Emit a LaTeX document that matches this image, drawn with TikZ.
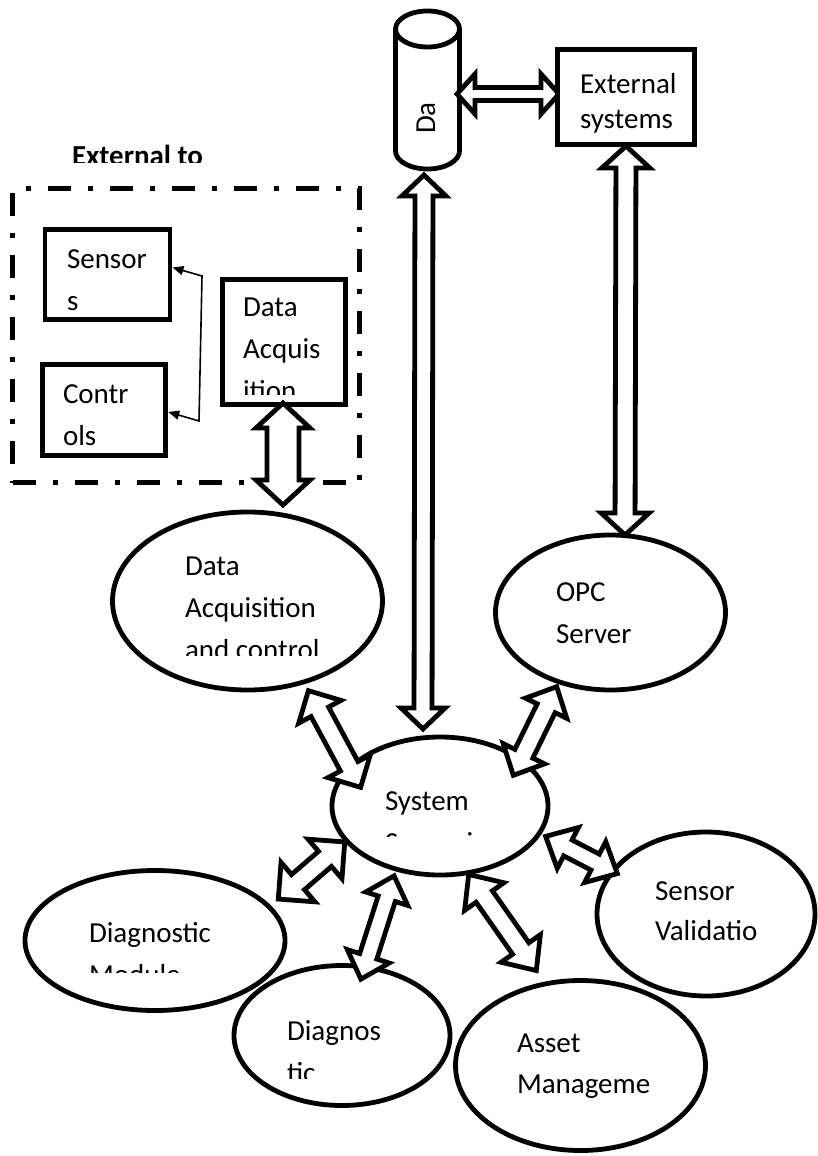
\documentclass[tikz,border=0pt]{standalone}
\usepackage{fontspec}
\setmainfont{Carlito}
\usetikzlibrary{shapes.geometric,arrows.meta,calc}
\newdimen\baXa \newdimen\baYa \newdimen\baXb \newdimen\baYb
\tikzset{
  shp/.style={draw, line width=4.8pt, fill=white, inner sep=0pt, outer sep=0pt},
  box/.style={shp, rectangle},
  ell/.style={shp, ellipse},
  lbl/.style={inner sep=0pt, outer sep=0pt, anchor=base west, align=left, font=\fontsize{29}{42}\selectfont},
  blk/.style={draw, fill=white, line width=4.8pt, line join=miter},
  thinconn/.style={line width=1.6pt, {Triangle[length=11pt,width=9pt]}-{Triangle[length=11pt,width=9pt]}},
  dashdot/.style={draw, line width=5pt, dash pattern=on 23pt off 17pt on 5pt off 17pt, inner sep=0pt, outer sep=0pt, rectangle}
}
% block double arrow between two named coordinates: #1 from, #2 to, #3 shaft half width, #4 head half width, #5 head length
\newcommand{\BlkArrow}[5]{%
  \pgfextractx{\baXa}{\pgfpointanchor{#1}{center}}%
  \pgfextracty{\baYa}{\pgfpointanchor{#1}{center}}%
  \pgfextractx{\baXb}{\pgfpointanchor{#2}{center}}%
  \pgfextracty{\baYb}{\pgfpointanchor{#2}{center}}%
  \pgfmathsetmacro\baAng{atan2(\baYb-\baYa,\baXb-\baXa)}%
  \pgfmathsetmacro\baE{veclen(\baXb-\baXa,\baYb-\baYa)-3}%
  \begin{scope}[shift={(\the\baXa,\the\baYa)}, rotate=\baAng, x=1pt, y=1pt]
    \draw[blk] (3,0) -- ({3+#5},#4) -- ({3+#5},#3) -- ({\baE-#5},#3) -- ({\baE-#5},#4) -- (\baE,0)
      -- ({\baE-#5},-#4) -- ({\baE-#5},-#3) -- ({3+#5},-#3) -- ({3+#5},-#4) -- cycle;
  \end{scope}}
\begin{document}
\begin{tikzpicture}[x=1pt, y=-1pt]
\useasboundingbox (0,0) rectangle (817,1156);
\fill[white] (0,0) rectangle (817,1156);

% external group
\node[dashdot, minimum width=347, minimum height=294] (grp) at (186,335.5) {};
\begin{scope}
  \clip (60,130) rectangle (230,162);
  \node[lbl, font=\bfseries\fontsize{29}{42}\selectfont] (tgrp) at (72,165) {External to};
\end{scope}

\node[box, minimum width=125, minimum height=90.5] (sen) at (107.5,274.5) {};
\node[box, minimum width=123.5, minimum height=91.5] (ctl) at (104,410) {};
\node[box, minimum width=123.5, minimum height=125.5] (dab) at (284,342) {};
\node[lbl] (tsen) at (67,310) {Sensor\\s};
\node[lbl] (tctl) at (63,445) {Contr\\ols};
\begin{scope}
  \clip (230,280) rectangle (345,394);
  \node[lbl] (tdab) at (243,400) {Data\\Acquis\\ition};
\end{scope}

% thin connector
\coordinate (j1) at (202,276);
\coordinate (j2) at (199,421);
\draw[thinconn] ($(sen.east)+(2.5,-7)$) -- (j1) -- (j2) -- ($(ctl.east)+(2.5,2)$);

% database cylinder
\draw[line width=4.8pt, fill=white] (395.5,29) -- (395.5,151) arc[start angle=180, end angle=0, x radius=32, y radius=18] -- (459.5,29);
\draw[line width=4.8pt, fill=white] (427.5,29) ellipse [x radius=32, y radius=18];
\node[inner sep=0pt, rotate=90, font=\fontsize{29}{42}\selectfont] (tdb) at (426,118) {Da};

% ellipses
\node[ell, minimum width=270, minimum height=178] (dac) at (247.5,601) {};
\node[ell, minimum width=230, minimum height=155] (opc) at (610.5,612.5) {};
\node[ell, minimum width=216, minimum height=138] (sys) at (440,806) {};
\node[ell, minimum width=260, minimum height=140] (dgm) at (155,940.5) {};
\node[ell, minimum width=216, minimum height=140] (dgn) at (342,1035.5) {};
\node[ell, minimum width=218, minimum height=164] (svl) at (706,914) {};
\node[ell, minimum width=250, minimum height=170] (ast) at (580.5,1065.5) {};

\begin{scope}
  \clip (175,540) rectangle (380,655);
  \node[lbl] (tdac) at (185,659) {Data\\Acquisition\\and control};
\end{scope}
\node[lbl] (topc) at (556,643) {OPC\\Server};
\begin{scope}
  \clip (370,770) rectangle (540,836);
  \node[lbl] (tsys) at (385,852) {System\\Supervisor};
\end{scope}
\begin{scope}
  \clip (80,900) rectangle (280,972);
  \node[lbl] (tdgm) at (89,984) {Diagnostic\\Module};
\end{scope}
\begin{scope}
  \clip (270,1000) rectangle (440,1078);
  \node[lbl] (tdgn) at (287,1082) {Diagnos\\tic};
\end{scope}
\node[lbl, font=\fontsize{29}{40}\selectfont] (tsvl) at (655,940) {Sensor\\Validatio};
\node[lbl, font=\fontsize{29}{41}\selectfont] (tast) at (517,1093) {Asset\\Manageme};

% block arrow end points
\coordinate (c1a) at (454,94);  \coordinate (c1b) at (562,94);
\coordinate (c2a) at (626,143); \coordinate (c2b) at (625,538);
\coordinate (c3a) at (424,172); \coordinate (c3b) at (423,732);
\coordinate (c4a) at (283,400); \coordinate (c4b) at (283,508);
\coordinate (c5a) at (307,688); \coordinate (c5b) at (362,790);
\coordinate (c6a) at (558,684); \coordinate (c6b) at (512,778);
\coordinate (c7a) at (347,840); \coordinate (c7b) at (276,901);
\coordinate (c8a) at (395,873); \coordinate (c8b) at (360,982);
\coordinate (c9a) at (467,872); \coordinate (c9b) at (538,973);
\coordinate (c10a) at (543,835); \coordinate (c10b) at (620,875);

\BlkArrow{c1a}{c1b}{6.5}{20}{18}
\BlkArrow{c2a}{c2b}{10}{24}{22}
\BlkArrow{c3a}{c3b}{9}{22}{21}
\BlkArrow{c4a}{c4b}{16}{27}{25}
\BlkArrow{c5a}{c5b}{10}{24}{24}
\BlkArrow{c6a}{c6b}{10}{23}{24}
\BlkArrow{c7a}{c7b}{10}{26}{26}
\BlkArrow{c8a}{c8b}{9}{22}{24}
\BlkArrow{c9a}{c9b}{10}{24}{27}
\BlkArrow{c10a}{c10b}{9}{23}{25}

% external systems box on top
\node[box, minimum width=137.5, minimum height=95.5] (ext) at (626,97) {};
\node[lbl, font=\fontsize{29}{35}\selectfont] (text) at (580,128) {External\\systems};
\end{tikzpicture}
\end{document}
